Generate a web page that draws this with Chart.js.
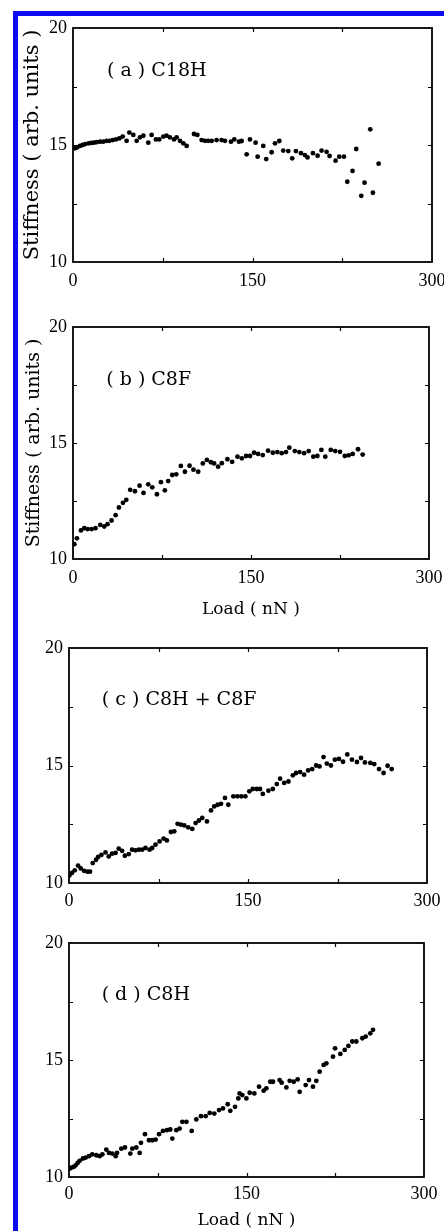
<!DOCTYPE html>
<html><head><meta charset="utf-8">
<script src="https://cdn.jsdelivr.net/npm/chart.js@4"></script>
<style>
html,body{margin:0;padding:0;background:#fff;overflow:hidden;width:444px;height:1231px;position:relative;}
#frame{position:absolute;left:13px;top:11px;width:431px;height:1220px;border-top:5px solid #0c0cf2;border-left:5px solid #0c0cf2;box-sizing:border-box;}
.p{position:absolute;left:0;width:470px;}
canvas{display:block;}
</style></head><body>
<div id="frame"></div>
<div class="p" style="top:0px;height:300px"><canvas id="ca" width="470" height="300"></canvas></div>
<div class="p" style="top:300px;height:320px"><canvas id="cb" width="470" height="320"></canvas></div>
<div class="p" style="top:620px;height:300px"><canvas id="cc" width="470" height="300"></canvas></div>
<div class="p" style="top:920px;height:311px"><canvas id="cd" width="470" height="311"></canvas></div>
<script>
// ---------- data ----------
const xTickLabels = [0, 150, 300];
const yTickLabels = [10, 15, 20];
const yAxisTitle = 'Stiffness ( arb. units )';
const xAxisTitle = 'Load ( nN )';
const panelLabels = ['( a ) C18H', '( b ) C8F', '( c ) C8H + C8F', '( d ) C8H'];

const loadA = [1.7,3.6,5.8,8.1,10.3,13.1,15.3,17.5,19.8,22.6,25.3,28.1,30.4,33.1,35.9,38.7,41.5,44.8,47.1,50.4,53.2,56.0,58.8,62.9,65.7,69.3,72.1,75.5,78.2,81.0,84.4,86.6,89.4,92.2,95.0,101.1,103.9,107.5,110.3,113.0,115.9,120.0,124.2,127.0,132.0,134.8,138.7,140.9,145.1,147.9,152.6,154.3,159.0,161.5,166.0,168.8,172.4,175.7,179.9,183.2,186.3,190.5,193.8,196.0,200.5,204.4,207.7,211.9,214.4,219.4,222.5,226.4,229.2,233.6,236.7,240.9,243.6,248.4,250.6,255.4];
const stiffA = [14.86,14.90,14.96,15.00,15.04,15.07,15.09,15.10,15.12,15.14,15.14,15.18,15.18,15.21,15.24,15.28,15.36,15.18,15.53,15.43,15.18,15.33,15.40,15.10,15.43,15.24,15.24,15.36,15.40,15.33,15.24,15.33,15.18,15.07,14.96,15.47,15.43,15.21,15.18,15.18,15.18,15.21,15.21,15.18,15.14,15.24,15.14,15.17,14.60,15.24,15.10,14.50,14.96,14.40,14.69,15.07,15.17,14.76,14.74,14.43,14.74,14.65,14.57,14.47,14.65,14.54,14.76,14.71,14.53,14.33,14.50,14.50,13.43,13.89,14.83,12.83,13.39,15.67,12.96,14.20];

const loadB = [1.1,3.3,6.7,9.5,12.3,15.7,19.0,23.0,26.3,29.1,32.5,35.9,38.7,42.1,44.9,48.2,52.2,56.1,59.4,63.4,66.8,70.7,74.1,77.4,80.2,83.6,87.0,90.9,94.3,98.2,101.5,105.5,109.4,112.8,116.2,118.9,122.3,125.4,130.1,134.1,138.6,142.3,145.9,149.2,152.6,156.0,159.9,164.4,168.4,172.2,175.9,179.5,182.3,186.9,190.7,194.7,198.6,202.5,205.9,209.3,212.6,217.2,221.0,225.0,229.0,232.3,235.7,240.2,244.1];
const stiffB = [10.64,10.89,11.23,11.33,11.29,11.29,11.33,11.47,11.40,11.50,11.66,11.89,12.22,12.42,12.55,12.98,12.92,13.16,12.85,13.22,13.09,12.79,13.31,12.96,13.36,13.62,13.65,14.01,13.76,14.02,13.85,13.76,14.12,14.27,14.17,14.12,13.98,14.13,14.30,14.19,14.41,14.34,14.44,14.44,14.58,14.53,14.48,14.67,14.58,14.61,14.56,14.61,14.80,14.65,14.61,14.56,14.65,14.41,14.44,14.70,14.41,14.70,14.65,14.62,14.44,14.47,14.53,14.73,14.50];

const loadC = [0.3,2.5,4.8,7.6,9.8,12.6,15.4,17.6,19.9,22.7,24.4,27.2,30.6,33.3,36.1,39.0,41.7,44.5,46.8,50.1,52.9,55.7,58.5,61.3,64.1,67.5,69.7,72.5,75.9,79.3,82.0,85.4,88.2,91.0,93.8,96.6,99.9,103.3,106.1,108.9,111.7,115.6,119.0,121.7,124.6,127.4,130.7,133.5,137.7,141.1,144.4,147.8,151.1,154.0,157.3,160.1,162.4,167.1,170.8,174.1,176.9,180.3,183.9,187.6,190.3,193.7,197.0,200.4,203.8,207.1,209.9,213.3,216.1,219.5,222.8,226.2,229.6,233.2,237.1,241.3,244.7,248.0,252.5,255.8,259.8,263.6,267.0,270.4];
const stiffC = [10.32,10.43,10.54,10.74,10.62,10.52,10.48,10.48,10.85,10.99,11.11,11.20,11.30,11.13,11.25,11.28,11.46,11.37,11.16,11.23,11.42,11.39,11.42,11.42,11.49,11.42,11.49,11.63,11.77,11.89,11.81,12.17,12.20,12.52,12.48,12.45,12.37,12.30,12.55,12.66,12.77,12.62,13.09,13.26,13.33,13.37,13.62,13.33,13.69,13.69,13.69,13.69,13.90,14.00,14.00,14.00,13.79,13.93,14.00,14.21,14.44,14.26,14.32,14.58,14.68,14.72,14.61,14.79,14.85,15.00,14.96,15.36,15.08,15.00,15.25,15.28,15.16,15.47,15.25,15.15,15.32,15.13,15.11,15.06,14.85,14.68,14.99,14.85];

const loadD = [0.6,2.0,3.9,5.6,7.3,9.0,11.8,14.1,16.9,19.7,23.1,25.9,28.2,31.5,33.8,36.6,39.4,40.6,44.2,47.3,51.8,53.5,56.9,59.7,60.8,64.2,67.6,70.4,73.2,76.1,79.4,82.8,85.6,87.3,90.7,93.5,95.8,99.2,103.7,107.6,111.5,115.5,118.9,122.8,126.8,130.1,134.1,136.3,140.3,143.1,144.2,146.5,149.9,152.7,156.6,160.6,164.5,166.8,170.1,172.4,178.0,179.7,183.7,186.5,189.9,193.2,194.9,200.0,202.8,206.2,209.0,211.8,215.2,217.5,223.1,224.8,229.3,233.0,236.1,239.4,242.8,247.9,250.7,254.6,256.9];
const stiffD = [10.36,10.40,10.43,10.50,10.60,10.69,10.79,10.83,10.89,10.97,10.93,10.89,10.97,11.17,11.03,11.00,10.89,11.03,11.21,11.26,11.00,11.21,11.26,11.03,11.46,11.83,11.57,11.57,11.60,11.83,11.97,12.00,12.03,11.64,12.00,12.07,12.36,12.36,11.97,12.46,12.60,12.60,12.74,12.71,12.86,12.93,13.11,12.83,13.00,13.36,13.57,13.50,13.36,13.60,13.57,13.86,13.69,13.79,14.07,14.07,14.14,14.03,13.83,14.11,14.07,14.17,13.64,13.93,14.14,13.86,14.11,14.50,14.79,14.86,15.14,15.50,15.26,15.43,15.60,15.79,15.79,15.93,16.00,16.14,16.29];

// ---------- drawing ----------
const SERIF = '"Liberation Serif", "Times New Roman", serif';
const WSERIF = '"DejaVu Serif", serif';

const framePlugin = {
  id: 'framePlugin',
  afterDatasetsDraw(chart, args, o) {
    const {ctx, chartArea: {left, right, top, bottom}, scales: {x, y}} = chart;
    ctx.save();
    ctx.strokeStyle = '#000';
    ctx.lineWidth = 1.8;
    ctx.strokeRect(left, top, right - left, bottom - top);
    ctx.lineWidth = 1.2;
    const L = 4;
    ctx.beginPath();
    x.ticks.forEach(t => {
      if (t.value <= x.min || t.value >= x.max) return;
      const px = Math.round(x.getPixelForValue(t.value)) + 0.5;
      ctx.moveTo(px, bottom); ctx.lineTo(px, bottom - L);
      ctx.moveTo(px, top); ctx.lineTo(px, top + L);
    });
    y.ticks.forEach(t => {
      if (t.value <= y.min || t.value >= y.max) return;
      const py = Math.round(y.getPixelForValue(t.value)) + 0.5;
      ctx.moveTo(left, py); ctx.lineTo(left + L, py);
      ctx.moveTo(right, py); ctx.lineTo(right - L, py);
    });
    ctx.stroke();
    ctx.fillStyle = '#000';
    ctx.font = '19px ' + WSERIF;
    ctx.textBaseline = 'middle';
    ctx.textAlign = 'left';
    ctx.fillText(o.text, x.getPixelForValue(o.lx), y.getPixelForValue(o.ly));
    ctx.restore();
  }
};

function makePanel(id, loads, stiff, cfg) {
  const data = loads.map((v, i) => ({x: v, y: stiff[i]}));
  new Chart(document.getElementById(id), {
    type: 'scatter',
    data: {datasets: [{data, pointRadius: 2.4, pointHoverRadius: 2.4, backgroundColor: '#000', borderWidth: 0, showLine: false}]},
    plugins: [framePlugin],
    options: {
      responsive: false, animation: false, devicePixelRatio: 1,
      layout: {padding: {left: 0, top: cfg.T, right: 470 - cfg.R, bottom: 0}},
      plugins: {legend: {display: false}, tooltip: {enabled: false},
        framePlugin: {text: cfg.label, lx: cfg.lx, ly: cfg.ly}},
      scales: {
        x: {
          type: 'linear', min: xTickLabels[0], max: xTickLabels[xTickLabels.length - 1],
          grid: {display: false, drawTicks: false}, border: {display: false},
          afterFit: s => { s.height = cfg.H - cfg.B; },
          ticks: {stepSize: 75, autoSkip: false, maxRotation: 0, padding: cfg.xpad,
            color: '#000', font: {family: SERIF, size: 18},
            callback: v => xTickLabels.includes(v) ? String(v) : ''},
          title: {display: !!cfg.xTitle, text: xAxisTitle, color: '#000',
            font: {family: WSERIF, size: 17}, padding: {top: cfg.xtp || 0, bottom: 0}}
        },
        y: {
          type: 'linear', min: yTickLabels[0], max: yTickLabels[yTickLabels.length - 1],
          grid: {display: false, drawTicks: false}, border: {display: false},
          afterFit: s => { s.width = cfg.L; },
          ticks: {stepSize: 2.5, autoSkip: false, padding: 6,
            color: '#000', font: {family: SERIF, size: 18},
            callback: v => yTickLabels.includes(v) ? String(v) : ''},
          title: {display: !!cfg.yTitle, text: yAxisTitle, color: '#000',
            font: {family: WSERIF, size: cfg.ytSize || 19}, padding: {top: cfg.ytp || 0, bottom: 0}}
        }
      }
    }
  });
}

makePanel('ca', loadA, stiffA, {H: 300, L: 73, R: 432, T: 28, B: 262, xpad: 8, yTitle: true, ytSize: 21, ytp: 20, label: panelLabels[0], lx: 28.4, ly: 18.16});
makePanel('cb', loadB, stiffB, {H: 320, L: 73, R: 429, T: 27, B: 259, xpad: 8, yTitle: true, ytp: 23, xTitle: true, xtp: 6, label: panelLabels[1], lx: 28, ly: 17.7});
makePanel('cc', loadC, stiffC, {H: 300, L: 69, R: 427, T: 28, B: 263, xpad: 7, label: panelLabels[2], lx: 27.5, ly: 17.8});
makePanel('cd', loadD, stiffD, {H: 311, L: 69, R: 424, T: 23, B: 257, xpad: 6, xTitle: true, xtp: 2, label: panelLabels[3], lx: 27.6, ly: 17.79});
</script>
</body></html>
